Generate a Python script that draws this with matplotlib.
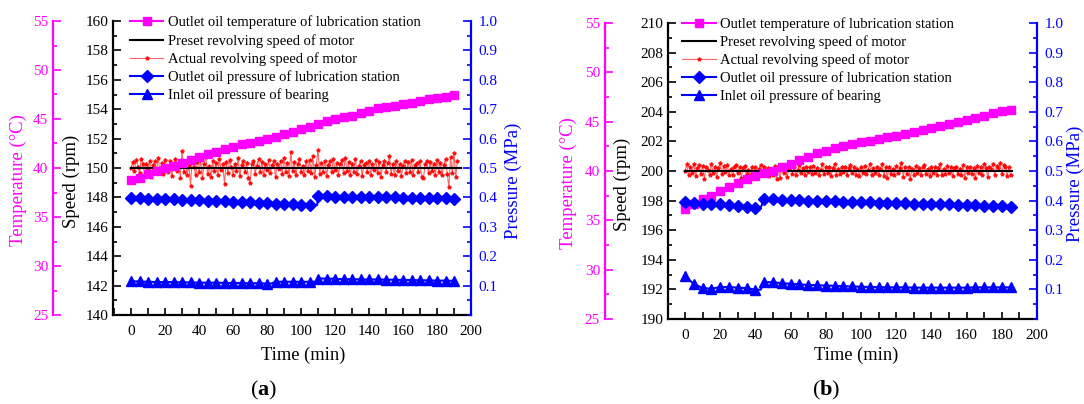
import matplotlib
matplotlib.use("Agg")
import matplotlib.pyplot as plt
from matplotlib.ticker import MultipleLocator, FixedLocator, FormatStrFormatter

plt.rcParams['font.family'] = ['Liberation Serif', 'DejaVu Serif']
plt.rcParams['mathtext.fontset'] = 'custom'
plt.rcParams['mathtext.rm'] = 'Liberation Serif'
plt.rcParams['mathtext.bf'] = 'Liberation Serif:bold'

MAG = '#FF00FF'
BLUE = '#0000FF'

# ---------------- data: panel (a) ----------------
t5_a = list(range(0, 191, 5))
temp_a = [38.8, 39.0, 39.4, 39.7, 39.95, 40.25, 40.55, 40.85, 41.15, 41.4,
          41.65, 41.9, 42.15, 42.4, 42.6, 42.8, 43.0, 43.2, 43.45, 43.7,
          43.95, 44.15, 44.45, 44.75, 45.0, 45.17, 45.34, 45.58, 45.82, 46.09,
          46.26, 46.36, 46.53, 46.63, 46.87, 47.01, 47.18, 47.28, 47.45]
outlet_p_a = [0.398, 0.397, 0.396, 0.395, 0.394, 0.393, 0.392, 0.391, 0.390, 0.389,
              0.388, 0.387, 0.386, 0.385, 0.384, 0.382, 0.381, 0.379, 0.377, 0.376,
              0.375, 0.374, 0.404, 0.404, 0.403, 0.403, 0.402, 0.402, 0.401, 0.401,
              0.400, 0.400, 0.399, 0.399, 0.398, 0.398, 0.397, 0.397, 0.396]
inlet_p_a = [0.115, 0.114, 0.113, 0.112, 0.112, 0.112, 0.111, 0.111, 0.110, 0.110,
             0.110, 0.109, 0.109, 0.109, 0.108, 0.108, 0.107, 0.113, 0.113, 0.113,
             0.113, 0.113, 0.124, 0.124, 0.123, 0.122, 0.122, 0.121, 0.121, 0.121,
             0.120, 0.120, 0.119, 0.119, 0.118, 0.118, 0.117, 0.117, 0.116]
steps_outlet_a = [109.5]
steps_inlet_a = [82.5, 109.5]
preset_t_a = [0, 194]
preset_a = [150, 150]
actual_t_a = list(range(0, 193))
actual_dev_a = [0, 40, -20, 55, 10, -35, 60, 25, -45, 30,
                -10, 50, -60, 20, 45, -25, 70, -15, 35, -40,
                55, 5, -30, 45, -55, 25, 60, -20, 40, -65,
                115, -30, 50, -45, 20, -120, 65, 10, -50, 40,
                -25, 55, -70, 30, 75, -40, 15, -60, 45, -20,
                35, -50, 60, -15, 25, -110, 40, -35, 55, 10,
                -45, 30, -20, 65, -55, 20, 45, -30, 35, -65,
                -105, 25, 50, -40, 15, 60, -25, 40, -50, 30,
                -15, 55, -35, 20, 45, -60, 30, -10, 50, -40,
                70, -25, 35, -55, 110, -20, 40, -45, 25, 60,
                -30, 15, -50, 45, -20, 55, -35, 85, -60, 20,
                120, -40, 35, -25, 50, -55, 20, 45, -30, 60,
                -15, 35, -45, 25, 55, -35, 70, -20, 40, -50,
                30, -25, 60, -40, 15, 45, -55, 20, 35, -30,
                50, -45, 25, -15, 55, -35, 40, -60, 20, 45,
                -25, 35, 80, -40, 25, -50, 45, -20, 30, -55,
                15, 50, -35, 40, -25, 55, -45, 20, 35, -30,
                45, -60, -70, 25, 50, -35, 40, -20, 30, -45,
                55, -25, 35, -50, 20, 60, -40, -130, 75, -35,
                100, -60, 45]
actual_a = [150 + d / 100 for d in actual_dev_a]

# ---------------- data: panel (b) ----------------
t5_b = list(range(0, 186, 5))
temp_b = [36.15, 36.7, 37.2, 37.5, 38.0, 38.4, 38.8, 39.2, 39.45, 39.75,
          40.05, 40.4, 40.75, 41.1, 41.45, 41.8, 42.05, 42.3, 42.55, 42.72,
          42.9, 43.0, 43.2, 43.4, 43.55, 43.8, 43.95, 44.15, 44.35, 44.55,
          44.75, 44.95, 45.15, 45.4, 45.55, 45.85, 46.05, 46.15]
outlet_p_b = [0.396, 0.392, 0.390, 0.389, 0.387, 0.385, 0.383, 0.380, 0.376, 0.406,
              0.404, 0.403, 0.402, 0.401, 0.400, 0.399, 0.398, 0.397, 0.396, 0.395,
              0.394, 0.394, 0.393, 0.392, 0.391, 0.391, 0.390, 0.389, 0.388, 0.388,
              0.387, 0.386, 0.385, 0.384, 0.383, 0.382, 0.381, 0.378]
inlet_p_b = [0.146, 0.118, 0.105, 0.102, 0.108, 0.108, 0.106, 0.104, 0.099, 0.125,
             0.124, 0.121, 0.119, 0.117, 0.115, 0.114, 0.113, 0.112, 0.111, 0.110,
             0.109, 0.108, 0.108, 0.107, 0.107, 0.107, 0.106, 0.106, 0.106, 0.106,
             0.106, 0.106, 0.106, 0.107, 0.107, 0.107, 0.107, 0.107]
steps_outlet_b = [43]
steps_inlet_b = [43]
preset_t_b = [0, 186]
preset_b = [200, 200]
actual_t_b = list(range(0, 186))
actual_dev_b = [0, 45, -25, 30, -15, 50, -35, 20, 40, -20,
                35, -55, 25, 10, -30, 45, -15, 30, -40, 20,
                55, -20, 35, -10, 40, -25, 15, -30, 25, 40,
                -15, 30, -45, 20, 35, -20, 10, -35, 30, -15,
                25, -30, 15, 40, -20, 30, -10, 20, -35, 15,
                -25, 35, -55, 20, -50, 30, -15, 25, -40, 15,
                35, -20, 25, -30, 10, 40, -15, 20, -25, 30,
                -10, 25, -20, 35, -15, 20, -30, 10, 45, -20,
                30, -15, 25, -35, 20, 50, -25, 15, -20, 30,
                -10, 25, -30, 20, 40, -15, 30, -25, 15, -35,
                25, -15, 35, -20, 10, 45, -30, 20, -15, 30,
                -25, 15, 50, -35, 25, -45, 30, -20, 15, -30,
                35, -15, 20, 55, -40, 25, -20, 30, -55, 15,
                -25, 35, -15, 20, -30, 25, 40, -20, 15, -35,
                30, -15, 25, -25, 20, 45, -30, 15, -20, 35,
                -15, 25, -35, 20, 30, -20, 15, -25, 40, -45,
                25, -15, 30, -20, 20, -50, 35, -15, 25, -30,
                45, 20, -40, 30, 15, 50, -25, 35, 20, 55,
                -20, 40, 30, -35, 25, -30]
actual_b = [200 + d / 100 for d in actual_dev_b]

labels = ["Outlet oil temperature of lubrication station",
          "Preset revolving speed of motor",
          "Actual revolving speed of motor",
          "Outlet oil pressure of lubrication station",
          "Inlet oil pressure of bearing"]
labels_b = ["Outlet temperature of lubrication station"] + labels[1:]


def with_steps(t, v, steps):
    lt, lv, marks = [], [], []
    for ti, vi in zip(t, v):
        for s in steps:
            if lt and lt[-1] < s < ti:
                lt.append(s)
                lv.append(lv[-1])
        marks.append(len(lt))
        lt.append(ti)
        lv.append(vi)
    return lt, lv, marks


fig = plt.figure(figsize=(10.84, 4.04), dpi=100)
TS = 11


def panel(rect, xlim, slim, t5, temp, pout, pin, st_out, st_in, at, av, pt, pv,
          labs, toff, coords, leg_anchor, letter, letter_x):
    ax = fig.add_axes(rect)
    axT = ax.twinx()
    axP = ax.twinx()

    # speed axis
    ax.plot(at, av, color='#FF4A4A', lw=0.8, marker='*', ms=2.8,
            mfc='#FF0000', mec='#FF0000', alpha=0.85, zorder=2)
    ax.plot(pt, pv, color='black', lw=1.5, zorder=3)
    ax.set_xlim(*xlim)
    ax.set_ylim(*slim)

    # temperature
    axT.plot(t5, temp, color=MAG, lw=1.5, marker='s', ms=5.5)
    axT.set_ylim(25, 55)

    # pressure
    lt, lv, mk = with_steps(t5, pout, st_out)
    axP.plot(lt, lv, color=BLUE, lw=1.5, marker='D', ms=6.3, markevery=mk)
    lt, lv, mk = with_steps(t5, pin, st_in)
    axP.plot(lt, lv, color=BLUE, lw=1.5, marker='^', ms=6.8, markevery=mk)
    axP.set_ylim(0, 1.0)

    # spines
    for a in (ax, axT, axP):
        for s in a.spines.values():
            s.set_visible(False)
    ax.spines['left'].set_visible(True)
    ax.spines['bottom'].set_visible(True)
    ax.spines['left'].set_linewidth(1.6)
    ax.spines['bottom'].set_linewidth(1.6)
    axT.spines['left'].set_visible(True)
    axT.spines['left'].set_color(MAG)
    axT.spines['left'].set_linewidth(1.6)
    axT.spines['left'].set_position(('outward', toff))
    axP.spines['right'].set_visible(True)
    axP.spines['right'].set_color(BLUE)
    axP.spines['right'].set_linewidth(1.6)

    # ticks
    ax.xaxis.set_major_locator(MultipleLocator(20))
    ax.xaxis.set_minor_locator(MultipleLocator(10))
    ax.yaxis.set_major_locator(MultipleLocator(2))
    ax.yaxis.set_minor_locator(MultipleLocator(1))
    ax.tick_params(axis='x', which='both', direction='in', top=False,
                   labelsize=TS, pad=7, width=1.2)
    ax.tick_params(axis='x', which='major', length=5)
    ax.tick_params(axis='x', which='minor', length=5)
    ax.tick_params(axis='y', which='both', direction='in', right=False,
                   labelsize=TS, pad=3.5, width=1.2)
    ax.tick_params(axis='y', which='major', length=5.5)
    ax.tick_params(axis='y', which='minor', length=3)

    axT.yaxis.set_ticks_position('left')
    axT.yaxis.set_label_position('left')
    axT.yaxis.set_major_locator(MultipleLocator(5))
    axT.yaxis.set_minor_locator(MultipleLocator(2.5))
    axT.tick_params(axis='y', which='both', direction='in', left=True, right=False,
                    labelleft=True, labelright=False, colors=MAG,
                    labelsize=TS, pad=3.5, width=1.2)
    axT.tick_params(axis='y', which='major', length=5.5)
    axT.tick_params(axis='y', which='minor', length=3)

    axP.yaxis.set_major_locator(FixedLocator([0.1, 0.2, 0.3, 0.4, 0.5, 0.6, 0.7, 0.8, 0.9, 1.0]))
    axP.yaxis.set_minor_locator(MultipleLocator(0.05))
    axP.yaxis.set_major_formatter(FormatStrFormatter('%.1f'))
    axP.tick_params(axis='y', which='both', direction='in', colors=BLUE,
                    labelsize=TS, pad=5.5, width=1.2)
    axP.tick_params(axis='y', which='major', length=5.5)
    axP.tick_params(axis='y', which='minor', length=3)

    # labels
    ax.set_xlabel('Time (min)', fontsize=13.3)
    ax.xaxis.set_label_coords(coords[0], coords[1])
    ax.set_ylabel('Speed (rpm)', fontsize=13.5)
    ax.yaxis.set_label_coords(coords[2], 0.455)
    axT.set_ylabel('Temperature (°C)', fontsize=13.5, color=MAG)
    axT.yaxis.set_label_coords(coords[3], 0.458)
    axP.set_ylabel('Pressure (MPa)', fontsize=13.5, color=BLUE)
    axP.yaxis.set_label_coords(coords[4], 0.456)

    handles = axT.lines[:1] + ax.lines[1:2] + ax.lines[0:1] + axP.lines[:2]
    axP.legend(handles, labs, loc='upper left', bbox_to_anchor=leg_anchor,
               frameon=False, fontsize=10.5, borderpad=0, borderaxespad=0,
               handlelength=2.3, handletextpad=0.3, labelspacing=0.3)

    fig.text(letter_x / 1084, 1 - 390 / 404, r'($\mathbf{' + letter + '}$)',
             ha='center', va='center', fontsize=16)


panel([113 / 1084, 89 / 404, 358 / 1084, 294 / 404], (-10.6, 200), (140, 160),
      t5_a, temp_a, outlet_p_a, inlet_p_a, steps_outlet_a, steps_inlet_a,
      actual_t_a, actual_a, preset_t_a, preset_a, labels, 43.2,
      (0.53, -0.107, -0.092, -0.240, 1.095), (0.047, 1.018), 'a', 264)

panel([668 / 1084, 85 / 404, 369 / 1084, 296 / 404], (-9.66, 200), (190, 210),
      t5_b, temp_b, outlet_p_b, inlet_p_b, steps_outlet_b, steps_inlet_b,
      actual_t_b, actual_b, preset_t_b, preset_b, labels_b, 45.4,
      (0.509, -0.094, -0.100, -0.247, 1.081), (0.038, 1.020), 'b', 826)

fig.savefig('out.png', dpi=100)
